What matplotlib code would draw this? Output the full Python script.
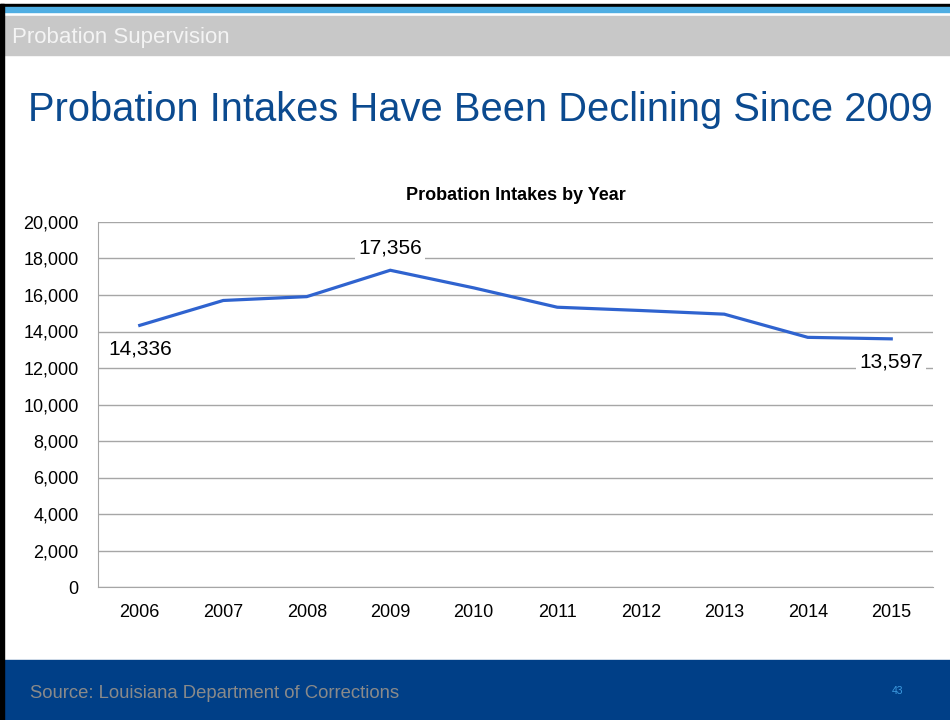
import matplotlib.pyplot as plt
from matplotlib.patches import Rectangle
from matplotlib.ticker import FuncFormatter

plt.rcParams['font.family'] = ['Liberation Sans', 'DejaVu Sans']

years = ["2006", "2007", "2008", "2009", "2010", "2011", "2012", "2013", "2014", "2015"]
intakes = [14336, 15700, 15910, 17356, 16390, 15330, 15150, 14950, 13680, 13597]
labelled = {0: "below", 3: "above", 9: "below"}
yticks = list(range(0, 20001, 2000))

fig = plt.figure(figsize=(9.5, 7.2), dpi=100)

# slide furniture: border, top stripes, header band and footer
def band(x, y, w, h, color):
    fig.patches.append(Rectangle((x / 950, 1 - (y + h) / 720), w / 950, h / 720,
                                 transform=fig.transFigure, color=color, zorder=0))

band(0, 4, 950, 3, "black")
band(0, 7, 950, 5, "#4FAEE3")
band(0, 16, 950, 39, "#C8C8C8")
band(0, 660, 950, 60, "#003F87")
band(0, 4, 4, 716, "black")

fig.text(12 / 950, 1 - 37 / 720, "Probation Supervision", color="#F4F4F4",
         fontsize=16, va="center", ha="left")
fig.text(480 / 950, 1 - 110 / 720, "Probation Intakes Have Been Declining Since 2009",
         color="#0B4A8F", fontsize=28.7, va="center", ha="center")
fig.text(30 / 950, 1 - 693 / 720, "Source: Louisiana Department of Corrections",
         color="#8A8A8A", fontsize=13.3, va="center", ha="left")
fig.text(897 / 950, 1 - 691 / 720, "43", color="#3E9BE0", fontsize=7.5,
         va="center", ha="center")

ax = fig.add_axes([98 / 950, 1 - 587 / 720, 835 / 950, 365 / 720])
x = range(len(years))
ax.plot(x, intakes, color="#2F63CF", linewidth=2.3, solid_joinstyle="miter", zorder=3)

for i, pos in labelled.items():
    off = 16 if pos == "above" else -17
    ax.annotate(f"{intakes[i]:,}", (i, intakes[i]), xytext=(0, off),
                textcoords="offset points", ha="center", va="center", fontsize=15,
                color="black", zorder=4,
                bbox=dict(boxstyle="square,pad=0.15", fc="white", ec="none"))

ax.set_xlim(-0.5, len(years) - 0.5)
ax.set_ylim(0, 20000)
ax.set_xticks(list(x))
ax.set_xticklabels(years)
ax.set_yticks(yticks)
ax.yaxis.set_major_formatter(FuncFormatter(lambda v, p: f"{int(v):,}"))
ax.tick_params(length=0, labelsize=13, colors="black")
ax.tick_params(axis="x", pad=12)
ax.tick_params(axis="y", pad=14)
ax.grid(axis="y", color="#A6A6A6", linewidth=1)
ax.set_axisbelow(True)
for s in ["top", "right"]:
    ax.spines[s].set_visible(False)
for s in ["left", "bottom"]:
    ax.spines[s].set_color("#A6A6A6")
ax.set_title("Probation Intakes by Year", fontsize=13, fontweight="bold", pad=16)

fig.savefig("out.png", dpi=100)
